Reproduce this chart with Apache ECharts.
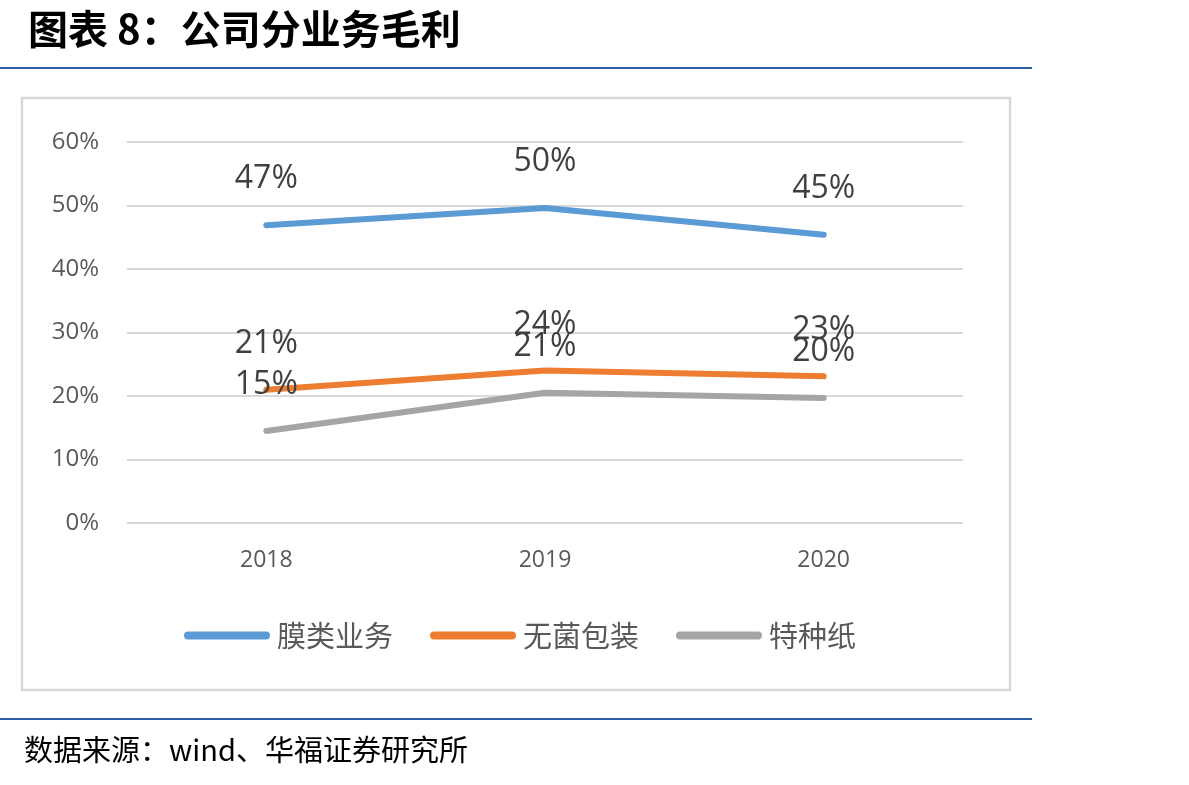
<!DOCTYPE html>
<html>
<head>
<meta charset="utf-8">
<script src="https://cdn.jsdelivr.net/npm/echarts@6/dist/echarts.min.js"></script>
<style>
  html, body { margin: 0; padding: 0; background: #fff; }
  #main { width: 1189px; height: 785px; }
</style>
</head>
<body>
<div id="main"></div>
<script>
// data (percent)
var years = ['2018', '2019', '2020'];
var seriesNames = ['膜类业务', '无菌包装', '特种纸'];
var membrane = [46.9, 49.6, 45.4];
var aseptic = [21.0, 24.0, 23.1];
var specialPaper = [14.5, 20.5, 19.7];
var colors = ['#5b9bd5', '#ed7d31', '#a5a5a5'];

var cjk = '"Noto Sans CJK SC", "Noto Sans", sans-serif';
var latin = '"Open Sans", "Noto Sans", sans-serif';

var chart = echarts.init(document.getElementById('main'));

function lineSeries(name, values, color) {
  return {
    name: name,
    type: 'line',
    data: values,
    symbol: 'circle',
    symbolSize: 2,
    itemStyle: { color: color, borderWidth: 0 },
    lineStyle: { color: color, width: 6, cap: 'round', join: 'round' },
    label: {
      show: true,
      position: 'top',
      distance: 29,
      color: '#404040',
      fontSize: 32,
      fontFamily: latin,
      formatter: function (p) { return Math.round(p.value) + '%'; }
    },
    emphasis: { disabled: true },
    animation: false
  };
}

var option = {
  backgroundColor: '#fff',
  grid: { left: 127, right: 226, top: 142, bottom: 262 },
  xAxis: {
    type: 'category',
    data: years,
    boundaryGap: true,
    axisLine: { show: false },
    axisTick: { show: false },
    axisLabel: { color: '#595959', fontSize: 23, margin: 26, fontFamily: latin }
  },
  yAxis: {
    type: 'value',
    min: 0,
    max: 60,
    interval: 10,
    axisLine: { show: false },
    axisTick: { show: false },
    splitLine: { lineStyle: { color: '#d9d9d9', width: 2 } },
    axisLabel: { color: '#595959', fontSize: 24, margin: 28, formatter: '{value}%', fontFamily: latin }
  },
  legend: {
    left: 179,
    top: 616,
    itemWidth: 86,
    itemHeight: 8,
    itemGap: 37,
    icon: 'path://M4,0 L82,0 A4,4 0 0 1 82,8 L4,8 A4,4 0 0 1 4,0 Z',
    textStyle: { color: '#595959', fontSize: 29, fontFamily: cjk, padding: [0, 0, 0, 2] },
    data: seriesNames
  },
  series: [
    lineSeries(seriesNames[0], membrane, colors[0]),
    lineSeries(seriesNames[1], aseptic, colors[1]),
    lineSeries(seriesNames[2], specialPaper, colors[2])
  ],
  graphic: [
    {
      type: 'text', left: 28, top: 9, silent: true,
      style: { text: '图表 8：公司分业务毛利', fontSize: 40, fontWeight: 'bold', fill: '#000', fontFamily: cjk }
    },
    {
      type: 'line', silent: true,
      shape: { x1: 0, y1: 68, x2: 1032, y2: 68 },
      style: { stroke: '#2a5caa', lineWidth: 2 }
    },
    {
      type: 'rect', silent: true, z: -1,
      shape: { x: 22, y: 98, width: 988, height: 592 },
      style: { fill: 'none', stroke: '#d9d9d9', lineWidth: 2.5 }
    },
    {
      type: 'line', silent: true,
      shape: { x1: 0, y1: 719, x2: 1032, y2: 719 },
      style: { stroke: '#2a5caa', lineWidth: 2 }
    },
    {
      type: 'text', left: 24, top: 735, silent: true,
      style: { text: '数据来源：wind、华福证券研究所', fontSize: 29, fill: '#000', fontFamily: cjk }
    }
  ]
};

chart.setOption(option);
</script>
</body>
</html>
